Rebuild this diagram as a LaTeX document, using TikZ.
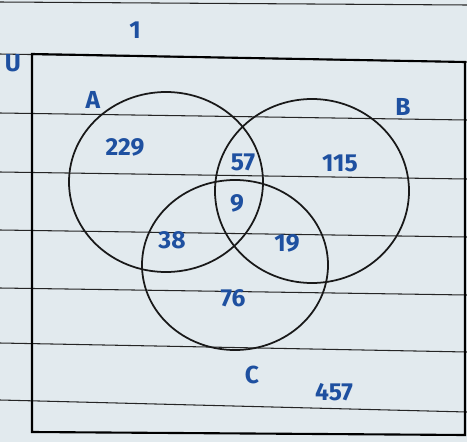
\documentclass[tikz,border=0pt]{standalone}
\usepackage{fontspec}
\setmainfont{Fira Sans}
\definecolor{paper}{RGB}{226,234,238}
\definecolor{ink}{RGB}{30,80,160}
\begin{document}
\begin{tikzpicture}[x=0.03cm,y=-0.03cm,
  lbl/.style={text=ink,font=\fontsize{21}{23}\selectfont\bfseries,inner sep=0pt},
  rule/.style={black!85,line width=0.9pt},
  venn/.style={black!90,line width=1.5pt}]
\useasboundingbox (0,0) rectangle (467,442);
\fill[paper] (0,0) rectangle (467,442);
% ruled lines of the paper
\draw[rule] (0,2) -- (467,5);
\draw[rule] (0,54) -- (467,62);
\draw[rule] (0,113) -- (467,120);
\draw[rule] (0,172) -- (467,179);
\draw[rule] (0,230) -- (467,237);
\draw[rule] (0,288) -- (467,295);
\draw[rule] (0,343) -- (467,352);
\draw[rule] (0,400) -- (467,412);
% universal set
\draw[black,line width=1.8pt] (32,54) -- (465,62) -- (465,435) -- (32,432) -- cycle;
% sets
\draw[venn] (166,182) ellipse [x radius=97,y radius=90];
\draw[venn] (312,191) ellipse [x radius=97,y radius=92];
\draw[venn] (235,265) ellipse [x radius=93,y radius=85];
% labels
\node[lbl] (one) at (135,30) {1};
\node[lbl] (u) at (13,63) {U};
\node[lbl] (a) at (93,100) {A};
\node[lbl] (b) at (403,107) {B};
\node[lbl] (c) at (252,375) {C};
\node[lbl] (n229) at (125,147) {229};
\node[lbl] (n57) at (243,162) {57};
\node[lbl] (n115) at (340,163) {115};
\node[lbl] (n9) at (237,203) {9};
\node[lbl] (n38) at (172,240) {38};
\node[lbl] (n19) at (287,243) {19};
\node[lbl] (n76) at (233,298) {76};
\node[lbl] (n457) at (334,392) {457};
\end{tikzpicture}
\end{document}
